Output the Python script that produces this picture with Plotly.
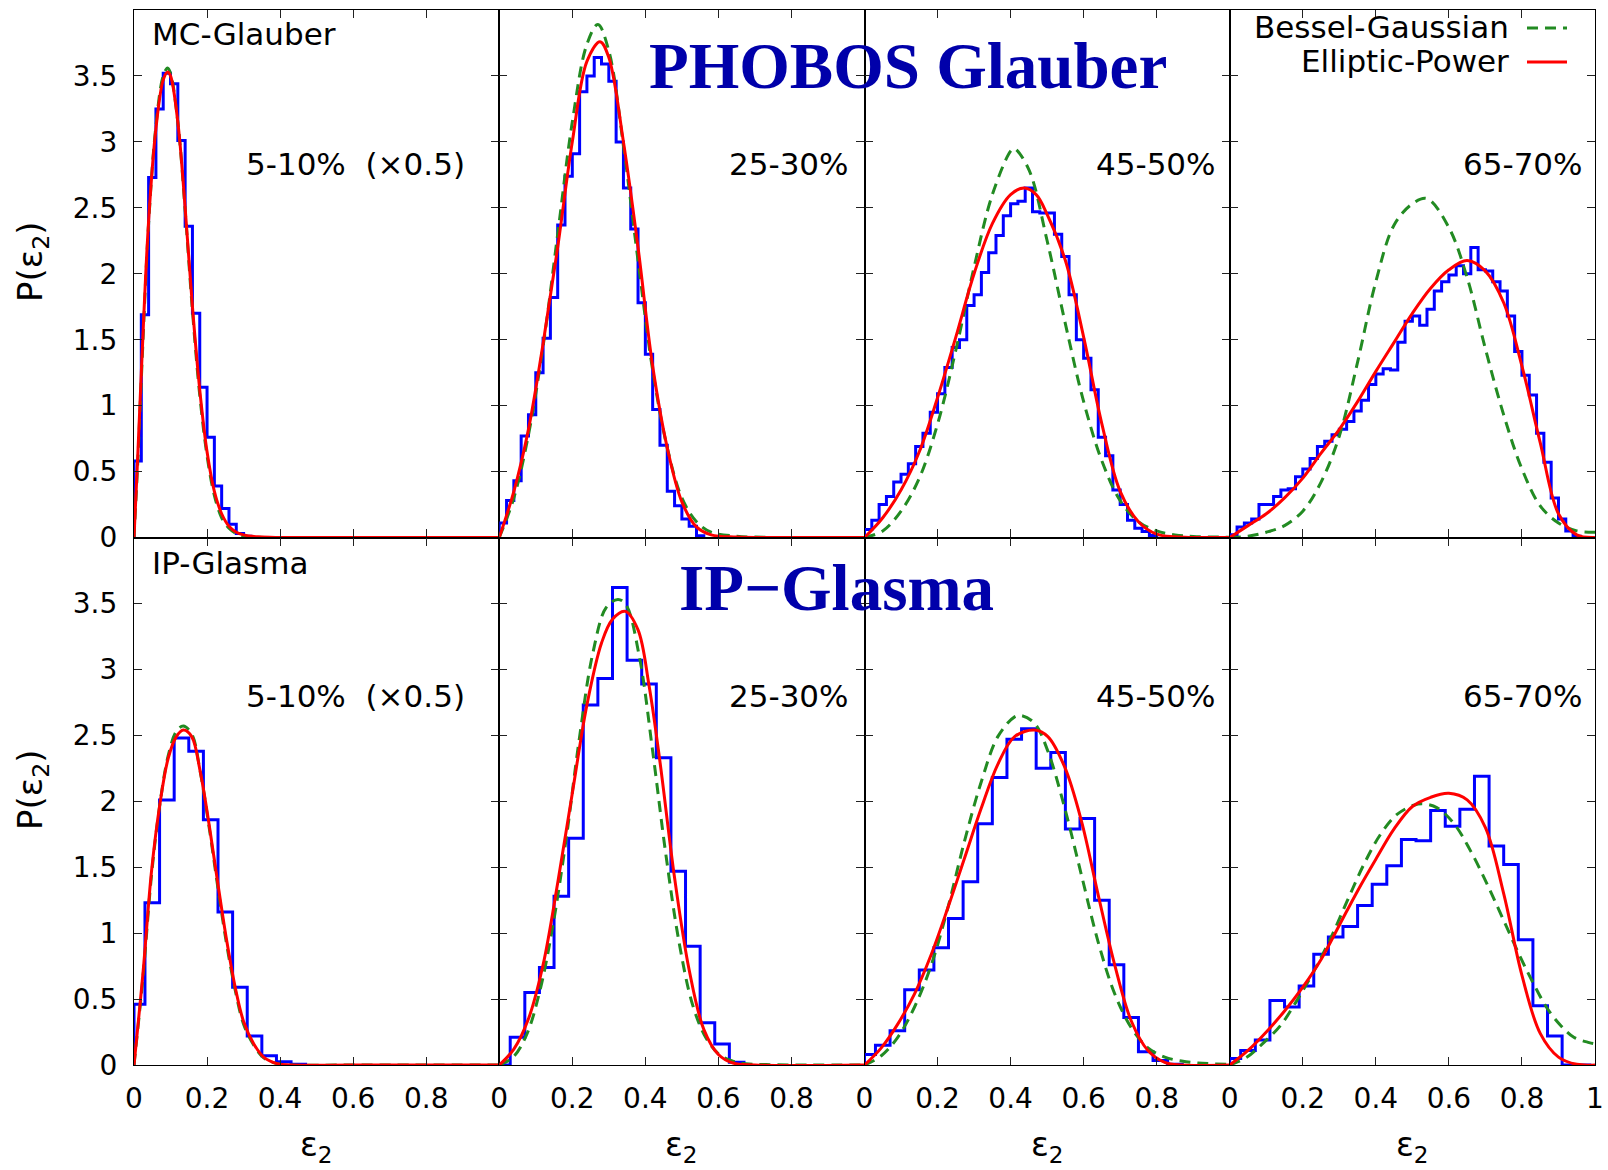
import plotly.graph_objects as go
from plotly.subplots import make_subplots

# ------------------------------------------------------------------ data
MODELS = ["MC-Glauber", "IP-Glasma"]
TITLES = ["PHOBOS Glauber", "IP\u2212Glasma"]
CENTRALITY = ["5-10%\u00a0\u00a0(\u00d70.5)", "25-30%", "45-50%", "65-70%"]
LEGEND_NAMES = ["Bessel-Gaussian", "Elliptic-Power"]
X_TICKS = [0, 0.2, 0.4, 0.6, 0.8]
X_TICKS_LAST = [0, 0.2, 0.4, 0.6, 0.8, 1]
Y_TICKS = [0, 0.5, 1, 1.5, 2, 2.5, 3, 3.5]

# histogram binning (top row: 0.02 bins from 0; bottom row: first edge 0.03 then 0.04 bins)
GLAUBER_FIRST_EDGE, GLAUBER_BIN_WIDTH = 0.02, 0.02
GLASMA_FIRST_EDGE, GLASMA_BIN_WIDTH = 0.03, 0.04

# --- MC-Glauber histograms
glauber_hist_05 = [0.58, 1.69, 2.73, 3.25, 3.52, 3.44, 3.01, 2.36, 1.70, 1.14, 0.76, 0.39, 0.22, 0.10, 0.03, 0.01]
glauber_hist_25 = [0.11, 0.28, 0.43, 0.77, 0.93, 1.25, 1.51, 1.82, 2.37, 2.74, 2.91, 3.38, 3.50, 3.64,
                   3.59, 3.46, 3.00, 2.65, 2.34, 1.78, 1.39, 0.97, 0.70, 0.35, 0.24, 0.14, 0.085, 0.013]
glauber_hist_45 = [0.06, 0.13, 0.25, 0.31, 0.42, 0.48, 0.56, 0.69, 0.79, 0.95, 1.09, 1.29, 1.44, 1.50,
                   1.76, 1.84, 2.01, 2.16, 2.29, 2.44, 2.53, 2.55, 2.65, 2.47, 2.46, 2.46, 2.30, 2.13,
                   1.84, 1.50, 1.36, 1.12, 0.76, 0.62, 0.36, 0.25, 0.13, 0.07, 0.045, 0.015]
glauber_hist_65 = [0.02, 0.08, 0.11, 0.14, 0.25, 0.25, 0.31, 0.36, 0.37, 0.46,
                   0.52, 0.60, 0.69, 0.73, 0.78, 0.82, 0.88, 0.96, 1.04, 1.16,
                   1.24, 1.28, 1.27, 1.48, 1.64, 1.68, 1.61, 1.73, 1.87, 1.94,
                   1.99, 2.06, 2.00, 2.20, 2.03, 2.02, 1.94, 1.87, 1.68, 1.41,
                   1.23, 1.08, 0.79, 0.57, 0.30, 0.14, 0.05, 0.01]

# --- IP-Glasma histograms
glasma_hist_05 = [0.46, 1.23, 2.01, 2.48, 2.38, 1.86, 1.16, 0.59, 0.22, 0.07, 0.025, 0.005]
glasma_hist_25 = [0.0, 0.21, 0.55, 0.74, 1.28, 1.72, 2.73, 2.93, 3.62, 3.07, 2.89, 2.33, 1.47, 0.90,
                  0.32, 0.16, 0.02]
glasma_hist_45 = [0.08, 0.15, 0.26, 0.57, 0.72, 0.89, 1.11, 1.39, 1.83, 2.18, 2.47, 2.55, 2.25, 2.37,
                  1.79, 1.87, 1.25, 0.76, 0.36, 0.10, 0.035, 0.005]
glasma_hist_65 = [0.05, 0.11, 0.19, 0.49, 0.44, 0.60, 0.84, 0.97, 1.05, 1.21, 1.37, 1.51, 1.71, 1.70,
                  1.93, 1.81, 1.94, 2.19, 1.66, 1.52, 0.95, 0.45, 0.22, 0.0, 0.0]

# --- MC-Glauber fits
glauber_ep_05_x = [0, 0.01, 0.02, 0.04, 0.06, 0.08, 0.092, 0.10, 0.12, 0.14, 0.16, 0.18, 0.20, 0.22,
                   0.24, 0.26, 0.28, 0.30, 0.34, 0.40, 0.60, 1.0]
glauber_ep_05_y = [0, 0.6, 1.25, 2.4, 3.1, 3.47, 3.53, 3.5, 3.15, 2.5, 1.75, 1.12, 0.65, 0.35,
                   0.18, 0.085, 0.04, 0.02, 0.005, 0, 0, 0]
glauber_bg_05_x = glauber_ep_05_x
glauber_bg_05_y = [0, 0.55, 1.2, 2.38, 3.12, 3.5, 3.56, 3.52, 3.15, 2.48, 1.72, 1.08, 0.62, 0.32,
                   0.15, 0.07, 0.03, 0.012, 0.002, 0, 0, 0]

glauber_ep_25_x = [0, 0.04, 0.08, 0.12, 0.16, 0.20, 0.24, 0.276, 0.30, 0.34, 0.38, 0.42, 0.46, 0.50,
                   0.54, 0.58, 0.65, 0.8, 1.0]
glauber_ep_25_y = [0, 0.35, 0.82, 1.47, 2.20, 3.0, 3.61, 3.76, 3.64, 3.0, 2.2, 1.30, 0.68, 0.27,
                   0.08, 0.02, 0.003, 0, 0]
glauber_bg_25_x = [0, 0.04, 0.08, 0.12, 0.16, 0.20, 0.24, 0.27, 0.30, 0.34, 0.38, 0.42, 0.46, 0.50,
                   0.54, 0.58, 0.65, 0.70, 0.8, 1.0]
glauber_bg_25_y = [0, 0.30, 0.78, 1.45, 2.30, 3.15, 3.74, 3.89, 3.69, 2.97, 2.10, 1.27, 0.68, 0.30,
                   0.12, 0.04, 0.01, 0.003, 0, 0]

glauber_ep_45_x = [0, 0.05, 0.10, 0.15, 0.20, 0.25, 0.30, 0.35, 0.40, 0.437, 0.47, 0.50, 0.55, 0.60,
                   0.65, 0.70, 0.75, 0.80, 0.85, 0.9, 1.0]
glauber_ep_45_y = [0, 0.15, 0.36, 0.65, 1.06, 1.52, 2.0, 2.38, 2.60, 2.65, 2.6, 2.45, 2.10, 1.52,
                   0.86, 0.35, 0.12, 0.025, 0.005, 0, 0]
glauber_bg_45_x = [0, 0.05, 0.10, 0.15, 0.20, 0.25, 0.30, 0.35, 0.40, 0.41, 0.45, 0.50, 0.55, 0.60,
                   0.65, 0.70, 0.75, 0.80, 0.85, 0.90, 1.0]
glauber_bg_45_y = [0, 0.05, 0.2, 0.45, 0.86, 1.42, 2.05, 2.6, 2.93, 2.95, 2.79, 2.25, 1.62, 1.03,
                   0.58, 0.28, 0.12, 0.05, 0.02, 0.008, 0.002]

glauber_ep_65_x = [0, 0.05, 0.1, 0.15, 0.2, 0.25, 0.3, 0.35, 0.4, 0.45, 0.5, 0.55, 0.6, 0.65, 0.7,
                   0.75, 0.8, 0.85, 0.9, 0.95, 1.0]
glauber_ep_65_y = [0, 0.09, 0.18, 0.30, 0.45, 0.64, 0.82, 1.03, 1.26, 1.48, 1.70, 1.89, 2.03, 2.10,
                   2.02, 1.78, 1.30, 0.72, 0.18, 0.02, 0]
glauber_bg_65_x = [0, 0.05, 0.1, 0.15, 0.2, 0.25, 0.3, 0.35, 0.4, 0.45, 0.5, 0.54, 0.6, 0.65, 0.7,
                   0.75, 0.8, 0.85, 0.9, 0.95, 1.0]
glauber_bg_65_y = [0, 0.01, 0.04, 0.09, 0.2, 0.42, 0.77, 1.33, 1.94, 2.37, 2.53, 2.57, 2.35, 1.97,
                   1.43, 0.93, 0.52, 0.24, 0.11, 0.05, 0.04]

# --- IP-Glasma fits
glasma_ep_05_x = [0, 0.025, 0.048, 0.071, 0.094, 0.116, 0.135, 0.158, 0.181, 0.208, 0.231, 0.254,
                  0.277, 0.30, 0.328, 0.355, 0.392, 0.43, 0.6, 1.0]
glasma_ep_05_y = [0, 0.71, 1.47, 1.98, 2.33, 2.49, 2.54, 2.49, 2.23, 1.78, 1.35, 0.94,
                  0.59, 0.33, 0.16, 0.06, 0.01, 0, 0, 0]
glasma_bg_05_x = glasma_ep_05_x
glasma_bg_05_y = [0, 0.68, 1.44, 1.98, 2.35, 2.53, 2.57, 2.51, 2.23, 1.76, 1.32, 0.91,
                  0.57, 0.31, 0.15, 0.055, 0.01, 0, 0, 0]

glasma_ep_25_x = [0, 0.04, 0.08, 0.12, 0.16, 0.20, 0.24, 0.28, 0.31, 0.345, 0.38, 0.41, 0.44, 0.48,
                  0.52, 0.56, 0.60, 0.64, 0.70, 1.0]
glasma_ep_25_y = [0, 0.12, 0.35, 0.76, 1.38, 2.06, 2.73, 3.20, 3.38, 3.44, 3.30, 2.88, 2.30, 1.42,
                  0.72, 0.27, 0.08, 0.015, 0, 0]
glasma_bg_25_x = [0, 0.038, 0.075, 0.111, 0.147, 0.184, 0.220, 0.256, 0.293, 0.325, 0.347, 0.384,
                  0.42, 0.456, 0.493, 0.529, 0.565, 0.602, 0.638, 0.675, 0.73, 0.85, 1.0]
glasma_bg_25_y = [0, 0.06, 0.23, 0.56, 1.06, 1.73, 2.49, 3.12, 3.47, 3.53, 3.49, 3.09,
                  2.38, 1.60, 0.92, 0.46, 0.21, 0.08, 0.03, 0.01, 0.003, 0, 0]

glasma_ep_45_x = [0, 0.046, 0.091, 0.137, 0.183, 0.228, 0.274, 0.320, 0.365, 0.411, 0.466, 0.502,
                  0.548, 0.594, 0.639, 0.685, 0.731, 0.776, 0.822, 0.868, 1.0]
glasma_ep_45_y = [0, 0.13, 0.31, 0.54, 0.84, 1.19, 1.57, 1.95, 2.28, 2.49, 2.54, 2.49,
                  2.26, 1.85, 1.30, 0.76, 0.33, 0.11, 0.02, 0, 0]
glasma_bg_45_x = [0, 0.046, 0.091, 0.137, 0.183, 0.228, 0.274, 0.320, 0.365, 0.411, 0.429, 0.466,
                  0.502, 0.548, 0.594, 0.639, 0.685, 0.731, 0.776, 0.822, 0.868, 0.913, 1.0]
glasma_bg_45_y = [0, 0.07, 0.21, 0.44, 0.76, 1.19, 1.70, 2.15, 2.49, 2.64, 2.65, 2.59,
                  2.38, 1.95, 1.44, 0.94, 0.54, 0.28, 0.13, 0.06, 0.03, 0.015, 0.005]

glasma_ep_65_x = [0, 0.05, 0.1, 0.15, 0.2, 0.25, 0.3, 0.35, 0.4, 0.45, 0.5, 0.55, 0.6, 0.65, 0.7,
                  0.75, 0.8, 0.85, 0.9, 0.95, 1.0]
glasma_ep_65_y = [0, 0.11, 0.25, 0.41, 0.59, 0.80, 1.06, 1.32, 1.56, 1.79, 1.96, 2.03, 2.06, 2.01,
                  1.80, 1.30, 0.68, 0.24, 0.06, 0.005, 0]
glasma_bg_65_x = [0, 0.0475, 0.093, 0.139, 0.184, 0.230, 0.276, 0.321, 0.367, 0.413, 0.458, 0.504,
                  0.531, 0.568, 0.614, 0.660, 0.705, 0.751, 0.797, 0.833, 0.869, 0.906, 0.942, 0.984, 1.0]
glasma_bg_65_y = [0, 0.06, 0.17, 0.30, 0.49, 0.71, 0.96, 1.24, 1.52, 1.75, 1.90, 1.97,
                  1.98, 1.95, 1.83, 1.62, 1.37, 1.09, 0.81, 0.61, 0.43, 0.30, 0.21, 0.17, 0.16]

HISTS = [[glauber_hist_05, glauber_hist_25, glauber_hist_45, glauber_hist_65],
         [glasma_hist_05, glasma_hist_25, glasma_hist_45, glasma_hist_65]]
EP = [[(glauber_ep_05_x, glauber_ep_05_y), (glauber_ep_25_x, glauber_ep_25_y),
       (glauber_ep_45_x, glauber_ep_45_y), (glauber_ep_65_x, glauber_ep_65_y)],
      [(glasma_ep_05_x, glasma_ep_05_y), (glasma_ep_25_x, glasma_ep_25_y),
       (glasma_ep_45_x, glasma_ep_45_y), (glasma_ep_65_x, glasma_ep_65_y)]]
BG = [[(glauber_bg_05_x, glauber_bg_05_y), (glauber_bg_25_x, glauber_bg_25_y),
       (glauber_bg_45_x, glauber_bg_45_y), (glauber_bg_65_x, glauber_bg_65_y)],
      [(glasma_bg_05_x, glasma_bg_05_y), (glasma_bg_25_x, glasma_bg_25_y),
       (glasma_bg_45_x, glasma_bg_45_y), (glasma_bg_65_x, glasma_bg_65_y)]]
BINNING = [(GLAUBER_FIRST_EDGE, GLAUBER_BIN_WIDTH), (GLASMA_FIRST_EDGE, GLASMA_BIN_WIDTH)]

# ------------------------------------------------------------------ style
W, H = 1608, 1170
PL, PR, PT, PB = 134, 1595, 10, 1065
SANS = "DejaVu Sans"
SERIF = "Liberation Serif"
BLUE, GREEN, RED, NAVY = "#0000FF", "#228B22", "#FF0000", "#0000AA"


def px(x):
    return (x - PL) / (PR - PL)


def py(y):
    return (PB - y) / (PB - PT)


def step_xy(heights, first_edge, width):
    edges = [0.0] + [first_edge + width * k for k in range(len(heights))]
    xs, ys = [edges[0]], [0.0]
    for i, h in enumerate(heights):
        xs += [edges[i], edges[i + 1]]
        ys += [h, h]
    xs.append(edges[-1])
    ys.append(0.0)
    return xs, ys


fig = make_subplots(rows=2, cols=4, horizontal_spacing=0, vertical_spacing=0)

for r in range(2):
    first_edge, width = BINNING[r]
    for c in range(4):
        hx, hy = step_xy(HISTS[r][c], first_edge, width)
        fig.add_trace(go.Scatter(x=hx, y=hy, mode="lines",
                                 line=dict(color=BLUE, width=3), hoverinfo="skip"),
                      row=r + 1, col=c + 1)
        bx, by = BG[r][c]
        fig.add_trace(go.Scatter(x=bx, y=by, mode="lines", name=LEGEND_NAMES[0],
                                 line=dict(color=GREEN, width=3, dash="11px,7px",
                                           shape="spline", smoothing=1.0)),
                      row=r + 1, col=c + 1)
        ex, ey = EP[r][c]
        fig.add_trace(go.Scatter(x=ex, y=ey, mode="lines", name=LEGEND_NAMES[1],
                                 line=dict(color=RED, width=3, shape="spline", smoothing=1.0)),
                      row=r + 1, col=c + 1)

axis_common = dict(showline=True, linecolor="black", linewidth=1.2, mirror="ticks",
                   ticks="inside", ticklen=8, tickwidth=1, tickcolor="#222222",
                   showgrid=False, zeroline=False, automargin=False,
                   tickfont=dict(family=SANS, size=28, color="black"))

for r in range(2):
    for c in range(4):
        xt = X_TICKS_LAST if c == 3 else X_TICKS
        fig.update_xaxes(range=[0, 1], tickvals=xt, ticktext=[f"{v:g}" for v in xt],
                         showticklabels=(r == 1), ticklabelstandoff=8,
                         row=r + 1, col=c + 1, **axis_common)
        fig.update_yaxes(range=[0, 4], tickvals=Y_TICKS, ticktext=[f"{v:g}" for v in Y_TICKS],
                         showticklabels=(c == 0), ticklabelstandoff=10,
                         row=r + 1, col=c + 1, **axis_common)

ann = []


def text(s, x, y, xanchor="center", yanchor="middle", size=31, family=SANS, color="black", angle=0):
    ann.append(dict(text=s, x=px(x), y=py(y), xref="paper", yref="paper",
                    xanchor=xanchor, yanchor=yanchor, showarrow=False, textangle=angle,
                    font=dict(family=family, size=size, color=color)))


# model labels
text(MODELS[0], 150, 34, xanchor="left")
text(MODELS[1], 150, 563, xanchor="left")
# centrality labels
cent_right = [467, 851, 1218, 1585]
for c in range(4):
    text(CENTRALITY[c], cent_right[c], 164, xanchor="right")
    text(CENTRALITY[c], cent_right[c], 696, xanchor="right")
# big titles
text("<b>" + TITLES[0] + "</b>", 908, 66, size=65, family=SERIF, color=NAVY)
text("<b>" + TITLES[1] + "</b>", 836, 588, size=65, family=SERIF, color=NAVY)
# legend
text(LEGEND_NAMES[0], 1511, 27, xanchor="right")
text(LEGEND_NAMES[1], 1511, 61, xanchor="right")
# axis titles
text("P(\u03b5<sub>2</sub>)", 32, 262, size=34, angle=-90)
text("P(\u03b5<sub>2</sub>)", 32, 790, size=34, angle=-90)
for c in range(4):
    cx = PL + (c + 0.5) * (PR - PL) / 4
    text("\u03b5<sub>2</sub>", cx, 1146, size=33)

shapes = [
    dict(type="line", xref="paper", yref="paper", x0=px(1527), x1=px(1567), y0=py(28), y1=py(28),
         line=dict(color=GREEN, width=3, dash="11px,7px")),
    dict(type="line", xref="paper", yref="paper", x0=px(1527), x1=px(1567), y0=py(62), y1=py(62),
         line=dict(color=RED, width=3)),
]

fig.update_layout(width=W, height=H, showlegend=False, autosize=False,
                  margin=dict(l=PL, r=W - PR, t=PT, b=H - PB, pad=0),
                  plot_bgcolor="white", paper_bgcolor="white",
                  annotations=ann, shapes=shapes)

fig.write_html("out.html", config={"displayModeBar": False, "responsive": False},
               post_script="document.body.style.margin='0px';document.body.style.overflow='hidden';")
